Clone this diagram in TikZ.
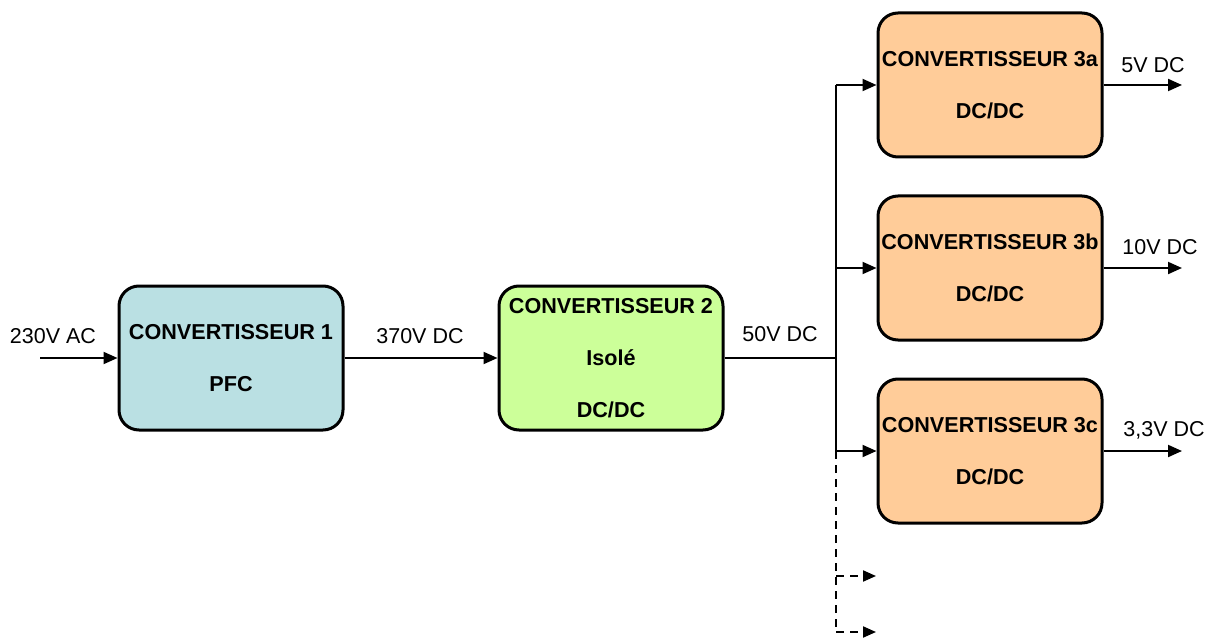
\documentclass[tikz,border=0pt]{standalone}
\usepackage{fontspec}
\setmainfont{Liberation Sans}
\usetikzlibrary{arrows.meta}
\definecolor{pfcblue}{HTML}{BAE0E3}
\definecolor{isogreen}{HTML}{CCFF99}
\definecolor{dcorange}{HTML}{FFCC99}
\begin{document}
\begin{tikzpicture}[x=1pt,y=-1pt,
    conv/.style={draw,line width=3pt,rounded corners=20pt,minimum width=224pt,minimum height=144pt,
        inner sep=0pt,align=center,font=\fontsize{21.6}{52}\selectfont\bfseries},
    lbl/.style={font=\fontsize{21.5}{25}\selectfont},
    wire/.style={line width=2pt,-{Triangle[length=14pt,width=12pt]}},
    dashwire/.style={line width=2pt,dash pattern=on 8pt off 6pt,-{Triangle[length=13pt,width=11pt]}}]
    \useasboundingbox (0,0) rectangle (1212,639);
    % blocks
    \node[conv,fill=pfcblue] (conv1) at (231,358) {CONVERTISSEUR 1\\PFC};
    \node[conv,fill=isogreen] (conv2) at (611,358) {CONVERTISSEUR 2\\Isolé\\DC/DC};
    \node[conv,fill=dcorange] (conv3a) at (990,85) {CONVERTISSEUR 3a\\DC/DC};
    \node[conv,fill=dcorange] (conv3b) at (990,268) {CONVERTISSEUR 3b\\DC/DC};
    \node[conv,fill=dcorange] (conv3c) at (990,451) {CONVERTISSEUR 3c\\DC/DC};
    % free ends
    \coordinate (in) at (40,358);
    \coordinate (bus) at (836,358);
    \coordinate (busend) at (836,632);
    \coordinate (spare1) at (876,576);
    \coordinate (spare2) at (876,632);
    \coordinate (out3a) at (1182,85);
    \coordinate (out3b) at (1182,268);
    \coordinate (out3c) at (1182,451);
    % connectors
    \draw[wire] (in) -- (conv1.west);
    \draw[wire] (conv1.east) -- (conv2.west);
    \draw[line width=1.5pt] (conv2.east) -- (bus);
    \draw[line width=1.5pt] (conv3a.west -| bus) -- (conv3c.west -| bus);
    \draw[line width=2pt,dash pattern=on 8pt off 6pt] (conv3c.west -| bus) -- (busend);
    \draw[wire] (conv3a.west -| bus) -- (conv3a.west);
    \draw[wire] (conv3b.west -| bus) -- (conv3b.west);
    \draw[wire] (conv3c.west -| bus) -- (conv3c.west);
    \draw[dashwire] (spare1 -| bus) -- (spare1);
    \draw[dashwire] (spare2 -| bus) -- (spare2);
    \draw[wire] (conv3a.east) -- (out3a);
    \draw[wire] (conv3b.east) -- (out3b);
    \draw[wire] (conv3c.east) -- (out3c);
    % labels
    \node[lbl] (lblin) at (53,336) {230V AC};
    \node[lbl] (lbl370) at (420,336) {370V DC};
    \node[lbl] (lbl50) at (780,334) {50V DC};
    \node[lbl] (lbl5) at (1153,65) {5V DC};
    \node[lbl] (lbl10) at (1160,247) {10V DC};
    \node[lbl] (lbl33) at (1164,430) {3,3V DC};
\end{tikzpicture}
\end{document}
